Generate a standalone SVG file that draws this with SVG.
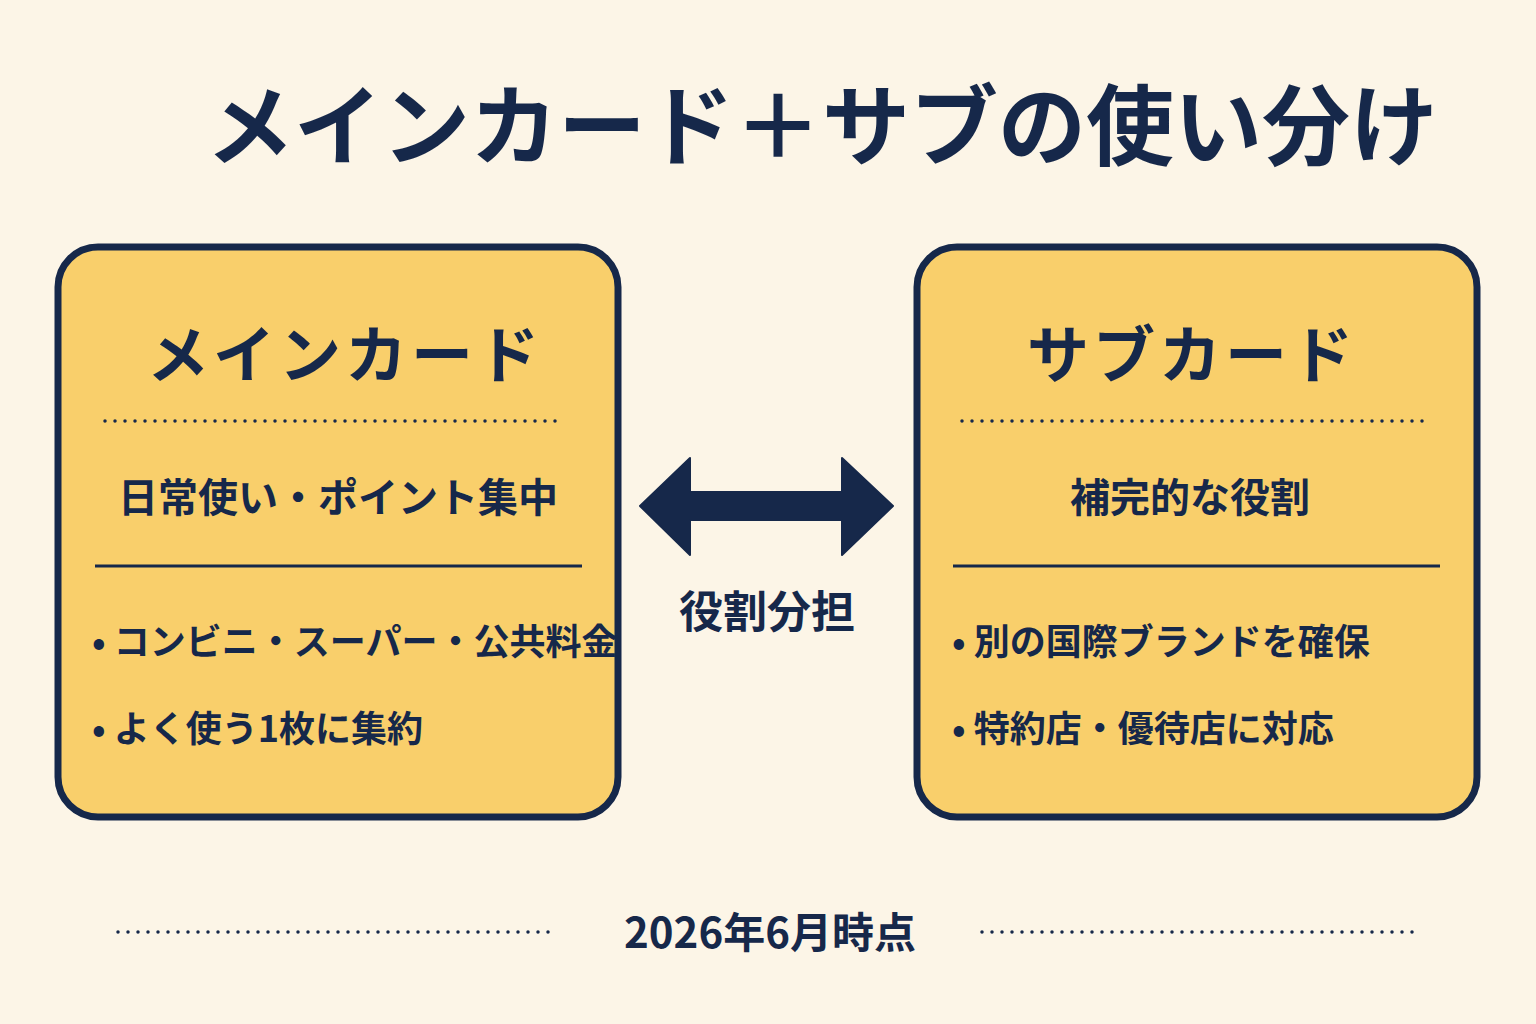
<svg xmlns="http://www.w3.org/2000/svg" width="1536" height="1024" viewBox="0 0 1536 1024">
<style>
text{font-family:"Noto Sans CJK JP","Noto Sans",sans-serif;fill:#16284a;font-weight:700}
.box{fill:#f9cf6b;stroke:#16284a;stroke-width:7}
.dot{stroke:#16284a;stroke-width:3.5;stroke-dasharray:0 10;stroke-linecap:round}
.sol{stroke:#16284a;stroke-width:3}
.h{font-size:62px;letter-spacing:4px;text-anchor:middle}
.s{font-size:40px;text-anchor:middle}
.b{font-size:36px}
</style>
<rect width="1536" height="1024" fill="#fcf5e7"/>
<text x="822" y="158" font-size="88" text-anchor="middle" font-weight="900">メインカード＋サブの使い分け</text>
<g id="main">
<rect class="box" x="58" y="247" width="560" height="570" rx="40"/>
<text class="h" x="345" y="378">メインカード</text>
<line class="dot" x1="105" y1="421" x2="565" y2="421"/>
<text class="s" x="338" y="512">日常使い・ポイント集中</text>
<line class="sol" x1="95" y1="566" x2="582" y2="566"/>
<text class="b" x="92" y="655">• コンビニ・スーパー・公共料金</text>
<text class="b" x="92" y="742">• よく使う1枚に集約</text>
</g>
<g id="sub">
<rect class="box" x="917" y="247" width="560" height="570" rx="40"/>
<text class="h" x="1192" y="378">サブカード</text>
<line class="dot" x1="962" y1="421" x2="1428" y2="421"/>
<text class="s" x="1190" y="512">補完的な役割</text>
<line class="sol" x1="953" y1="566" x2="1440" y2="566"/>
<text class="b" x="952" y="655">• 別の国際ブランドを確保</text>
<text class="b" x="952" y="742">• 特約店・優待店に対応</text>
</g>
<g id="connectors">
<path d="M640 506 L690 458 L690 492 L842 492 L842 458 L893 506 L842 555 L842 520 L690 520 L690 555 Z" fill="#16284a" stroke="#16284a" stroke-width="2" stroke-linejoin="round"/>
<text x="767" y="628" font-size="44" text-anchor="middle">役割分担</text>
</g>
<g id="footer">
<line class="dot" x1="118" y1="932" x2="552" y2="932"/>
<line class="dot" x1="982" y1="932" x2="1414" y2="932"/>
<text x="770" y="948" font-size="42" text-anchor="middle">2026年6月時点</text>
</g>
</svg>
